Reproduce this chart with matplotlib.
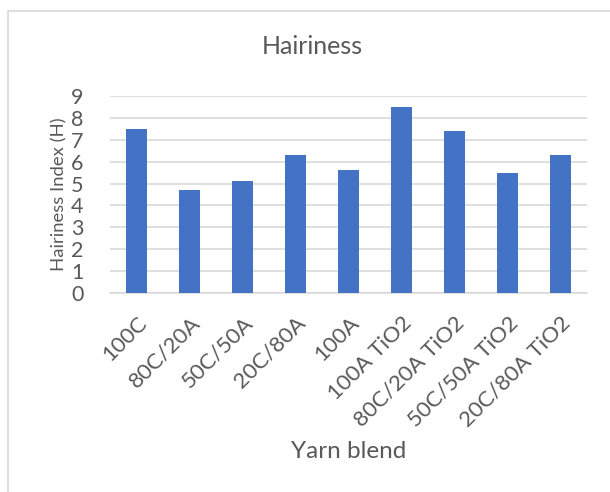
import matplotlib
matplotlib.use("Agg")
import matplotlib.pyplot as plt
from matplotlib.patches import Rectangle

categories = ["100C", "80C/20A", "50C/50A", "20C/80A", "100A",
              "100A TiO2", "80C/20A TiO2", "50C/50A TiO2", "20C/80A TiO2"]
hairiness = [7.5, 4.7, 5.1, 6.3, 5.6, 8.5, 7.4, 5.5, 6.3]
y_ticks = list(range(0, 10))

W, H = 610, 492
TEXT = "#595959"
GRID = "#D9D9D9"
BAR = "#4472C4"

plt.rcParams["font.family"] = ["Lato", "DejaVu Sans"]

fig = plt.figure(figsize=(W / 100, H / 100), dpi=100)

# chart-area border
fig.patches.append(Rectangle((7.5 / W, -0.05), 1.1, 1 - 10.5 / H + 0.05,
                             transform=fig.transFigure, fill=False,
                             edgecolor=GRID, linewidth=1.2))

left, right, top, bottom = 110, 587, 96, 293
ax = fig.add_axes([left / W, 1 - bottom / H, (right - left) / W, (bottom - top) / H])

x = range(len(categories))
ax.bar(x, hairiness, width=0.4, color=BAR, zorder=3)

ax.set_xlim(-0.5, len(categories) - 0.5)
ax.set_ylim(0, 9)
ax.set_yticks(y_ticks)
ax.set_yticklabels([str(t) for t in y_ticks], fontsize=15.5, color=TEXT)
ax.set_xticks(list(x))
ax.set_xticklabels(categories, rotation=45, ha="right", va="top",
                   rotation_mode="anchor", fontsize=16, color=TEXT)
ax.tick_params(axis="both", length=0)
ax.tick_params(axis="y", pad=19)
ax.tick_params(axis="x", pad=14)

ax.grid(axis="y", color=GRID, linewidth=1.2, zorder=0)
for s in ["top", "right", "left"]:
    ax.spines[s].set_visible(False)
ax.spines["bottom"].set_color(GRID)
ax.spines["bottom"].set_linewidth(1.2)

ax.set_ylabel("Hairiness Index (H)", fontsize=13.3, color=TEXT, labelpad=3)
fig.text(312 / W, 1 - 47 / H, "Hairiness", ha="center", va="center",
         fontsize=18, color=TEXT)
fig.text(349 / W, 1 - 452 / H, "Yarn blend", ha="center", va="center",
         fontsize=17.5, color=TEXT)

fig.savefig("out.png", dpi=100, facecolor="white")
